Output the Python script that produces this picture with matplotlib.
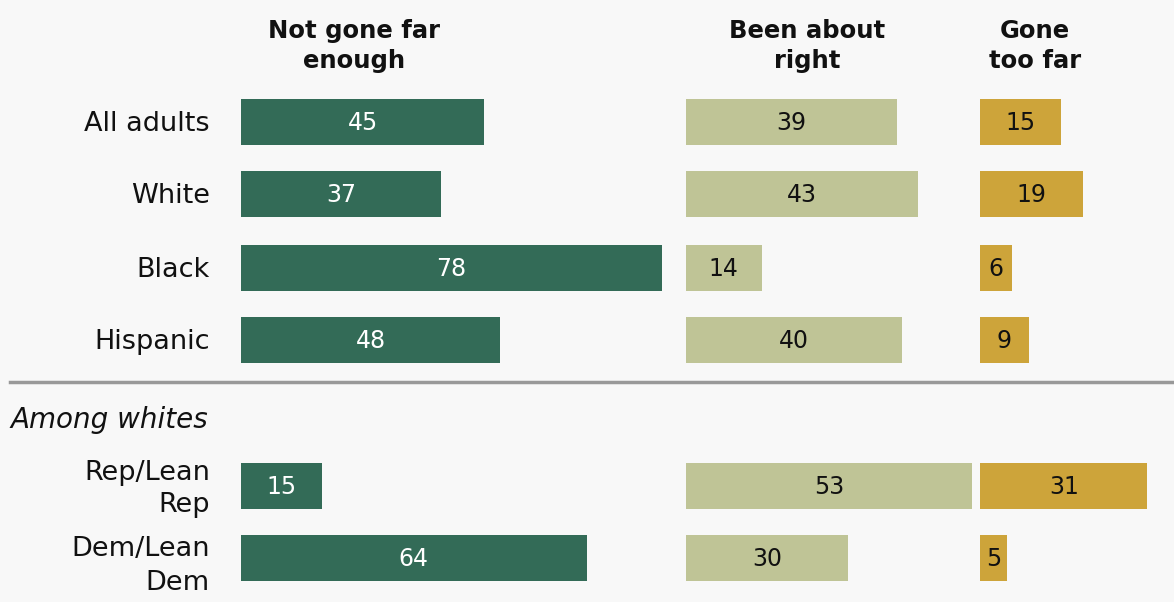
import matplotlib
matplotlib.use("Agg")
import matplotlib.pyplot as plt

categories = ["All adults", "White", "Black", "Hispanic", "Rep/Lean\nRep", "Dem/Lean\nDem"]
not_far_enough = [45, 37, 78, 48, 15, 64]
about_right = [39, 43, 14, 40, 53, 30]
too_far = [15, 19, 6, 9, 31, 5]
headers = ["Not gone far\nenough", "Been about\nright", "Gone\ntoo far"]
group_label = "Among whites"

W, H = 1174, 602
fig = plt.figure(figsize=(W / 100, H / 100), dpi=100)
fig.patch.set_facecolor("#f8f8f8")

row_y = [122, 194, 268, 340, 486, 558]
label_dy = [2, 2, 2, 2, 3, 8]
bar_h = 46
scale = 5.4  # px per unit

panels = [
    (241, 430, not_far_enough, "#336b57", "white", 354),
    (686, 290, about_right, "#bfc496", "#111111", 807),
    (980, 185, too_far, "#cda43a", "#111111", 1035),
]

for (left, width, vals, col, tcol, hx), head in zip(panels, headers):
    ax = fig.add_axes([left / W, 0, width / W, 1])
    ax.set_xlim(0, width / scale)
    ax.set_ylim(H, 0)
    ax.axis("off")
    ax.barh(row_y, vals, height=bar_h, color=col, edgecolor="none")
    for y, v in zip(row_y, vals):
        ax.text(v / 2, y + 1, str(v), ha="center", va="center", fontsize=17,
                color=tcol)

# overlay axes in pixel coords for text and separator
ov = fig.add_axes([0, 0, 1, 1])
ov.set_xlim(0, W)
ov.set_ylim(H, 0)
ov.axis("off")
ov.patch.set_alpha(0)

for (left, width, vals, col, tcol, hx), head in zip(panels, headers):
    ov.text(hx, 46, head, ha="center", va="center", fontsize=17.5,
            fontweight="bold", linespacing=1.3, color="#111111")

for y, dy, lab in zip(row_y, label_dy, categories):
    ov.text(210, y + dy, lab, ha="right", va="center", fontsize=19.5,
            linespacing=1.35, color="#111111")

ov.plot([10, W], [382, 382], color="#999999", lw=2.5)
ov.text(10, 420, group_label, ha="left", va="center", fontsize=20,
        style="italic", color="#111111")

fig.savefig("out.png", dpi=100, facecolor=fig.get_facecolor())
